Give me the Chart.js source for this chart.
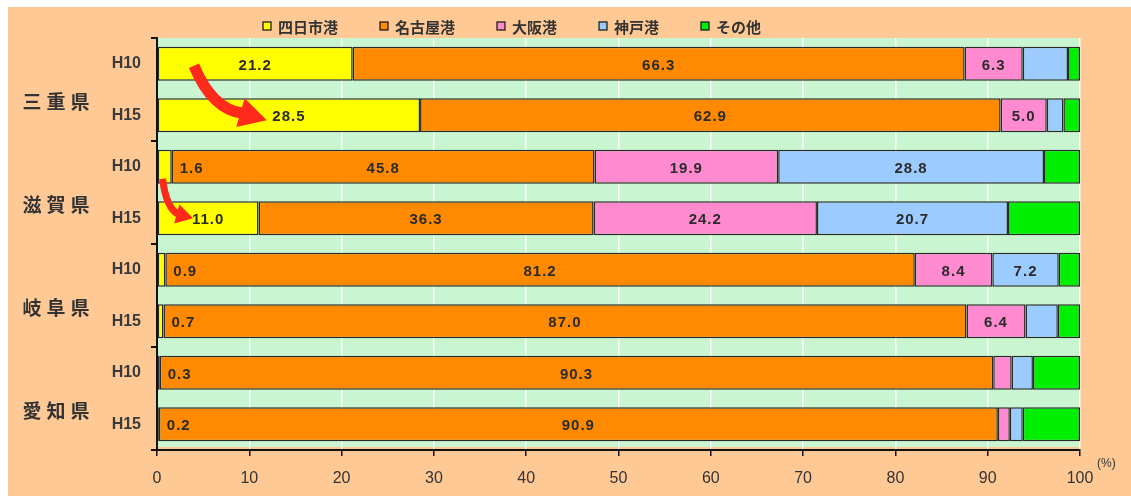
<!DOCTYPE html>
<html><head><meta charset="utf-8">
<script src="https://cdn.jsdelivr.net/npm/chart.js@4"></script>
<style>html,body{margin:0;padding:0;background:#fff;overflow:hidden}</style>
</head><body><canvas id="c" width="1131" height="496"></canvas>
<script>
const categories = ['H10','H15','H10','H15','H10','H15','H10','H15'];
const prefectures = ['三重県','滋賀県','岐阜県','愛知県'];
const seriesNames = ['四日市港','名古屋港','大阪港','神戸港','その他'];
const yokkaichi = [21.2, 28.5, 1.6, 11.0, 0.9, 0.7, 0.3, 0.2];
const nagoya    = [66.3, 62.9, 45.8, 36.3, 81.2, 87.0, 90.3, 90.9];
const osaka     = [6.3, 5.0, 19.9, 24.2, 8.4, 6.4, 2.0, 1.3];
const kobe      = [4.9, 1.8, 28.8, 20.7, 7.2, 3.5, 2.3, 1.4];
const other     = [1.3, 1.8, 3.9, 7.8, 2.3, 2.4, 5.1, 6.2];
const xTicks = [0,10,20,30,40,50,60,70,80,90,100];
const unitLabel = '(%)';

const colors = ['#FFFF00','#FF8A00','#FF8AD0','#9CCCFF','#00EE00'];
const seriesData = [yokkaichi, nagoya, osaka, kobe, other];

const JP = "'Noto Sans CJK JP', 'Liberation Sans', sans-serif";
const LAT = "'Liberation Sans', 'DejaVu Sans', sans-serif";

const decor = {
  id: 'decor',
  beforeDraw(chart) {
    const ctx = chart.ctx, a = chart.chartArea;
    ctx.save();
    ctx.fillStyle = '#fff';
    ctx.fillRect(0, 0, chart.width, chart.height);
    ctx.fillStyle = '#FFC996';
    ctx.fillRect(8, 7, chart.width - 8, chart.height - 7);
    ctx.fillStyle = '#C9F5D1';
    ctx.fillRect(a.left, a.top, a.right - a.left, a.bottom - a.top - 3);
    ctx.restore();
  },
  afterDatasetsDraw(chart) {
    const ctx = chart.ctx;
    const xs = chart.scales.x, ys = chart.scales.y;
    ctx.save();
    ctx.font = 'bold 15px ' + LAT;
    ctx.letterSpacing = '1px';
    ctx.fillStyle = '#2b2b2b';
    ctx.textBaseline = 'middle';
    chart.data.datasets.forEach((ds, di) => {
      const meta = chart.getDatasetMeta(di);
      meta.data.forEach((bar, i) => {
        const v = ds.data[i];
        const show = di === 0 || (di < 4 && v >= 5);
        if (!show) return;
        const p = bar.getProps(['x', 'base', 'y'], true);
        let tx;
        if (di === 0 && v < 5) { ctx.textAlign = 'left'; tx = p.x + 8; }
        else { ctx.textAlign = 'center'; tx = (p.x + p.base) / 2; }
        ctx.fillText(v.toFixed(1), tx, p.y + 2);
      });
    });
    ctx.letterSpacing = '0px';
    // red arrows (H10 -> H15 change of 四日市港 share)
    const arrow = (S, C, B, T, w, hw) => {
      ctx.strokeStyle = '#FF2A1A';
      ctx.fillStyle = '#FF2A1A';
      ctx.lineWidth = w;
      ctx.lineCap = 'butt';
      ctx.beginPath();
      ctx.moveTo(S[0], S[1]);
      ctx.quadraticCurveTo(C[0], C[1], B[0], B[1]);
      ctx.stroke();
      const dx = T[0] - B[0], dy = T[1] - B[1];
      const L = Math.hypot(dx, dy), nx = -dy / L, ny = dx / L;
      ctx.beginPath();
      ctx.moveTo(T[0], T[1]);
      ctx.lineTo(B[0] + nx * hw - dx * 0.1, B[1] + ny * hw - dy * 0.1);
      ctx.lineTo(B[0] - nx * hw - dx * 0.1, B[1] - ny * hw - dy * 0.1);
      ctx.closePath();
      ctx.fill();
    };
    const px = v => xs.getPixelForValue(v);
    const py = i => ys.getPixelForValue(i);
    arrow([px(4.0), py(0) + 2], [px(6.0), py(0) + 46], [px(9.3), py(1) - 2], [px(11.9), py(1) + 5], 11, 15);
    arrow([px(0.6), py(2) + 12], [px(1.0), py(3) - 10], [px(2.3), py(3) - 4], [px(3.9), py(3)], 7, 10);
    ctx.restore();
  },
  afterDraw(chart) {
    const ctx = chart.ctx, a = chart.chartArea;
    const ys = chart.scales.y;
    ctx.save();
    // y group tick marks
    ctx.strokeStyle = '#111';
    ctx.lineWidth = 2;
    for (let g = 0; g <= prefectures.length; g++) {
      const y = g < prefectures.length ? ys.getPixelForValue(g * 2) - (ys.getPixelForValue(1) - ys.getPixelForValue(0)) / 2 : a.bottom;
      ctx.beginPath();
      ctx.moveTo(a.left - 6, Math.round(y));
      ctx.lineTo(a.left, Math.round(y));
      ctx.stroke();
    }
    // prefecture labels
    ctx.font = 'bold 19px ' + JP;
    ctx.fillStyle = '#333';
    ctx.textAlign = 'center';
    ctx.textBaseline = 'middle';
    prefectures.forEach((p, g) => {
      const y = (ys.getPixelForValue(g * 2) + ys.getPixelForValue(g * 2 + 1)) / 2 + 12;
      [...p].forEach((ch, k) => ctx.fillText(ch, 32 + k * 24, y));
    });
    // legend
    ctx.font = 'bold 15px ' + JP;
    ctx.textAlign = 'left';
    let x = 263;
    seriesNames.forEach((n, i) => {
      ctx.fillStyle = colors[i];
      ctx.fillRect(x, 22, 8, 8);
      ctx.strokeStyle = '#111';
      ctx.lineWidth = 1.2;
      ctx.strokeRect(x, 22, 8, 8);
      ctx.fillStyle = '#333';
      ctx.fillText(n, x + 15, 27);
      x += 15 + ctx.measureText(n).width + 42;
    });
    // unit
    ctx.font = '12px ' + LAT;
    ctx.fillStyle = '#333';
    ctx.fillText(unitLabel, a.right + 17, 464);
    ctx.restore();
  }
};

new Chart(document.getElementById('c'), {
  type: 'bar',
  data: {
    labels: categories,
    datasets: seriesNames.map((n, i) => ({
      label: n,
      data: seriesData[i],
      backgroundColor: colors[i],
      borderColor: '#2a2a2a',
      borderWidth: 1.5,
      borderSkipped: false,
      categoryPercentage: 1,
      barPercentage: 0.66
    }))
  },
  options: {
    responsive: false,
    animation: false,
    indexAxis: 'y',
    layout: { padding: { left: 0, right: 51, top: 38, bottom: 0 } },
    plugins: { legend: { display: false }, tooltip: { enabled: false } },
    scales: {
      x: {
        stacked: true, min: 0, max: 100,
        afterBuildTicks: s => { s.ticks = xTicks.map(v => ({ value: v })); },
        afterFit: s => { s.height = 46; },
        grid: { color: 'rgba(255,255,255,0.9)', lineWidth: 1.5, tickColor: '#111', tickLength: 6 },
        border: { color: '#111', width: 2 },
        ticks: { padding: 13, color: '#333', font: { size: 16, family: LAT } }
      },
      y: {
        stacked: true,
        afterFit: s => { s.width = 157; },
        grid: { display: false },
        border: { color: '#111', width: 2 },
        ticks: { padding: 8, color: '#3a3a3a', font: { size: 16, weight: 'bold', family: LAT } }
      }
    }
  },
  plugins: [decor]
});
</script>
</body></html>
